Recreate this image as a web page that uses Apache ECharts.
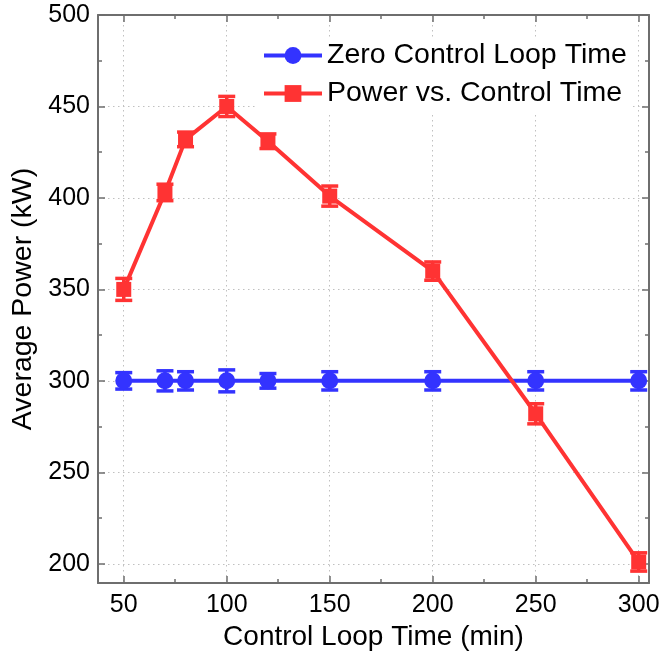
<!DOCTYPE html>
<html>
<head>
<meta charset="utf-8">
<script src="https://cdn.jsdelivr.net/npm/echarts@6/dist/echarts.min.js"></script>
<style>
  html, body { margin: 0; padding: 0; background: #fff; }
  #chart { width: 663px; height: 656px; }
</style>
</head>
<body>
<div id="chart"></div>
<script>
// data
var xValues = [50, 70, 80, 100, 120, 150, 200, 250, 300];
var zeroLoop = [300, 300, 300, 300, 300, 300, 300, 300, 300];
var zeroLoopErr = [4.5, 5.5, 5, 6, 4, 5, 5, 5, 5];
var powerVsTime = [350, 403, 432, 450, 431, 401, 360, 282, 201];
var powerErr = [6, 4.5, 4, 5.5, 4, 5.5, 5, 5.5, 5];
var xMajor = [50, 100, 150, 200, 250, 300];
var xMinor = [75, 125, 175, 225, 275];
var yMajor = [200, 250, 300, 350, 400, 450, 500];
var yMinor = [225, 275, 325, 375, 425, 475];

var FONT = 'Liberation Sans, Arial, sans-serif';
var AXIS_COLOR = '#6e6e6e';
var BLUE = '#3333ff';
var RED = '#ff3333';

var chart = echarts.init(document.getElementById('chart'));

function pairs(vals) {
  return xValues.map(function (x, i) { return [x, vals[i]]; });
}
function errPairs(vals, errs) {
  return xValues.map(function (x, i) { return [x, vals[i] - errs[i], vals[i] + errs[i]]; });
}

// error bar: vertical stem with two caps
function errorBar(color) {
  return function (params, api) {
    var x = api.value(0);
    var lo = api.coord([x, api.value(1)]);
    var hi = api.coord([x, api.value(2)]);
    var w = 8.5;
    var style = { stroke: color, lineWidth: 3.5 };
    return {
      type: 'group',
      children: [
        { type: 'line', shape: { x1: lo[0], y1: lo[1], x2: hi[0], y2: hi[1] }, style: style },
        { type: 'line', shape: { x1: lo[0] - w, y1: lo[1], x2: lo[0] + w, y2: lo[1] }, style: style },
        { type: 'line', shape: { x1: hi[0] - w, y1: hi[1], x2: hi[0] + w, y2: hi[1] }, style: style }
      ]
    };
  };
}

function xAxisOf(position, ticks, len, main) {
  return {
    type: 'value',
    position: position,
    min: 37.5,
    max: 305,
    axisLine: { show: main, onZero: false, lineStyle: { color: AXIS_COLOR, width: 2 } },
    axisTick: { show: true, inside: true, length: len, customValues: ticks, lineStyle: { color: AXIS_COLOR, width: 1.5 } },
    axisLabel: main && position === 'bottom'
      ? { show: true, customValues: xMajor, color: '#000', fontSize: 25, fontFamily: FONT, margin: 10 }
      : { show: false },
    splitLine: main && position === 'bottom'
      ? { show: true, lineStyle: { color: '#c0c0c0', type: [1.5, 3.5], width: 1 } }
      : { show: false },
    name: main && position === 'bottom' ? 'Control Loop Time (min)' : '',
    nameLocation: 'middle',
    nameGap: 40,
    nameTextStyle: { color: '#000', fontSize: 28, fontFamily: FONT }
  };
}

function yAxisOf(position, ticks, len, main) {
  return {
    type: 'value',
    position: position,
    min: 189.5,
    max: 500,
    axisLine: { show: main, onZero: false, lineStyle: { color: AXIS_COLOR, width: 2 } },
    axisTick: { show: true, inside: true, length: len, customValues: ticks, lineStyle: { color: AXIS_COLOR, width: 1.5 } },
    axisLabel: main && position === 'left'
      ? { show: true, customValues: yMajor, color: '#000', fontSize: 25, fontFamily: FONT, margin: 8 }
      : { show: false },
    splitLine: main && position === 'left'
      ? { show: true, lineStyle: { color: '#c0c0c0', type: [1.5, 3.5], width: 1 } }
      : { show: false },
    name: main && position === 'left' ? 'Average Power (kW)' : '',
    nameLocation: 'middle',
    nameGap: 53,
    nameRotate: 90,
    nameTextStyle: { color: '#000', fontSize: 28.5, fontFamily: FONT }
  };
}

var option = {
  animation: false,
  backgroundColor: '#fff',
  grid: { left: 98, right: 14, top: 15, bottom: 73, containLabel: false, outerBoundsMode: 'none' },
  legend: {
    data: ['Zero Control Loop Time', 'Power vs. Control Time'],
    orient: 'vertical',
    left: 256,
    top: 37,
    padding: [4, 6],
    itemGap: 9,
    itemWidth: 58,
    itemHeight: 21,
    backgroundColor: '#fff',
    lineStyle: { width: 4 },
    textStyle: { color: '#000', fontSize: 28.5, fontFamily: FONT }
  },
  xAxis: [
    xAxisOf('bottom', xMajor, 7, true),
    xAxisOf('bottom', xMinor, 4, false),
    xAxisOf('top', xMajor, 7, true),
    xAxisOf('top', xMinor, 4, false)
  ],
  yAxis: [
    yAxisOf('left', yMajor, 7, true),
    yAxisOf('left', yMinor, 4, false),
    yAxisOf('right', yMajor, 7, true),
    yAxisOf('right', yMinor, 4, false)
  ],
  series: [
    {
      name: 'zeroErr',
      type: 'custom',
      renderItem: errorBar(BLUE),
      data: errPairs(zeroLoop, zeroLoopErr),
      encode: { x: 0, y: [1, 2] },
      z: 3
    },
    {
      name: 'powerErr',
      type: 'custom',
      renderItem: errorBar(RED),
      data: errPairs(powerVsTime, powerErr),
      encode: { x: 0, y: [1, 2] },
      z: 3
    },
    {
      name: 'Zero Control Loop Time',
      type: 'line',
      data: pairs(zeroLoop),
      symbol: 'circle',
      symbolSize: 17,
      color: BLUE,
      lineStyle: { width: 4, color: BLUE },
      itemStyle: { color: BLUE },
      z: 4
    },
    {
      name: 'Power vs. Control Time',
      type: 'line',
      data: pairs(powerVsTime),
      symbol: 'rect',
      symbolSize: 15,
      color: RED,
      lineStyle: { width: 4, color: RED },
      itemStyle: { color: RED },
      z: 5
    }
  ]
};

chart.setOption(option);
</script>
</body>
</html>
